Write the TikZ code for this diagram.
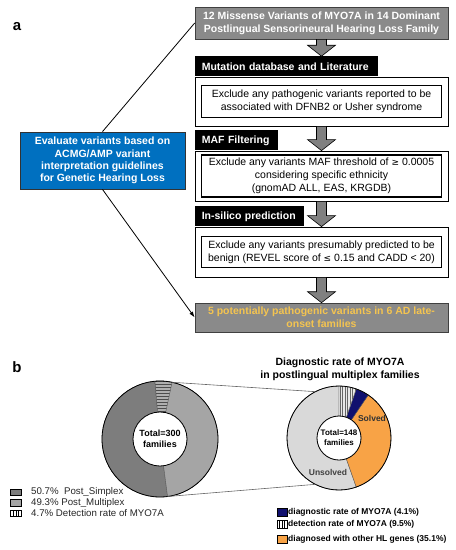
\documentclass[tikz,border=0pt]{standalone}
\usepackage{fontspec}
\setmainfont{Liberation Sans}
\usetikzlibrary{calc,arrows.meta}

\definecolor{boxgray}{RGB}{138,138,138}
\definecolor{arrgray}{RGB}{128,128,128}
\definecolor{evalblue}{RGB}{0,112,192}
\definecolor{resgold}{RGB}{244,196,80}
\definecolor{simplexgray}{RGB}{125,125,125}
\definecolor{multigray}{RGB}{165,165,165}
\definecolor{hatchgray}{RGB}{175,175,175}
\definecolor{unsolvedgray}{RGB}{217,217,217}
\definecolor{solvedorange}{RGB}{248,163,70}
\definecolor{diagnavy}{RGB}{16,16,110}

\NewDocumentCommand{\ringseg}{O{}mmmm}{%
\path[#1] (#4:#2) arc[start angle=#4, end angle=#5, radius=#2] -- (#5:#3) arc[start angle=#5, end angle=#4, radius=#3] -- cycle;%
}
\NewDocumentCommand{\blockarrow}{mm}{%
\path (#1.south |- #2.north) coordinate (tip);%
\draw[blockarr] ($(#1.south)+(-5,0)$) -- ($(tip)+(-5,11)$) -- ($(tip)+(-14,11)$) -- (tip) -- ($(tip)+(14,11)$) -- ($(tip)+(5,11)$) -- ($(#1.south)+(5,0)$) -- cycle;%
}

\begin{document}
\begin{tikzpicture}[x=1pt,y=1pt,
    graybox/.style={draw=black!75, line width=0.6pt, fill=boxgray, font=\bfseries\fontsize{10.5}{13}\selectfont, align=center, inner sep=0pt, minimum width=253pt},
    hdr/.style={fill=black, text=white, font=\bfseries\fontsize{10.5}{12}\selectfont, anchor=south west, inner xsep=7pt, inner ysep=0pt, minimum height=20pt, align=left},
    outbox/.style={draw=black, line width=0.8pt, fill=white, minimum width=253pt, inner sep=0pt},
    inbox/.style={draw=black, line width=1.2pt, font=\fontsize{10.5}{13}\selectfont, align=center, minimum width=240pt, inner sep=0pt},
    blockarr/.style={draw=black, line width=0.6pt, fill=arrgray},
    seg/.style={draw=black!65, line width=0.4pt},
    hole/.style={circle, draw=black, fill=white, line width=0.8pt, inner sep=0pt, align=center, font=\bfseries\fontsize{9}{11}\selectfont},
    zoomline/.style={draw=black!60, line width=0.6pt},
    legsq/.style={draw=black, line width=0.5pt, inner sep=0pt},
    legtxt/.style={anchor=west, inner sep=0pt},
    panel/.style={font=\bfseries\fontsize{15}{15}\selectfont}]
\useasboundingbox (0,0) rectangle (456,-550);

% a
\node[panel] (pa) at (17,-27) {a};

\node[graybox, text=white, minimum height=32pt] (src) at (321.5,-23)
    {12 Missense Variants of MYO7A in 14 Dominant\\Postlingual Sensorineural Hearing Loss Family};

\node[outbox, minimum height=49pt] (mutbox) at (321.5,-101.5) {};
\node[inbox, minimum height=32pt] (mutin) at (mutbox) {Exclude any pathogenic variants reported to be\\associated with DFNB2 or Usher syndrome};
\node[hdr, text width=169pt] (muthdr) at (mutbox.north west) {Mutation database and Literature};

\node[outbox, minimum height=50pt] (mafbox) at (321.5,-176) {};
\node[inbox, minimum height=42pt] (mafin) at (mafbox) {Exclude any variants MAF threshold of {\fontspec{DejaVu Sans}\fontsize{9}{13}\selectfont≥} 0.0005\\considering specific ethnicity\\(gnomAD ALL, EAS, KRGDB)};
\node[hdr, text width=69pt] (mafhdr) at (mafbox.north west) {MAF Filtering};

\node[outbox, minimum height=50pt] (silbox) at (321.5,-252) {};
\node[inbox, minimum height=31pt] (silin) at (silbox) {Exclude any variants presumably predicted to be\\benign (REVEL score of {\fontspec{DejaVu Sans}\fontsize{9}{13}\selectfont≤} 0.15 and CADD {\textless} 20)};
\node[hdr, text width=95pt] (silhdr) at (silbox.north west) {In-silico prediction};

\node[graybox, text=resgold, minimum height=29pt] (res) at (321.5,-317.5)
    {5 potentially pathogenic variants in 6 AD late-\\onset families};

\blockarrow{src}{muthdr}
\blockarrow{mutbox}{mafbox}
\blockarrow{mafbox}{silbox}
\blockarrow{silbox}{res}

\node[draw=black!80, line width=0.8pt, fill=evalblue, text=white, align=center, minimum width=165pt, minimum height=57pt, inner sep=0pt, font=\bfseries\fontsize{10.5}{12.3}\selectfont] (eval) at (102.5,-160.5)
    {Evaluate variants based on\\ACMG/AMP variant\\interpretation guidelines\\for Genetic Hearing Loss};
\draw[line width=0.8pt] (eval.north) -- (src.west);
\draw[line width=0.8pt, -{Latex[length=6pt,width=4pt]}] (eval.south) -- (res.west);

% b
\node[panel] (pb) at (17,-367) {b};

% all families
\begin{scope}[shift={(160,-439)}]
\ringseg[fill=simplexgray, seg]{58}{27}{95}{277.5}
\ringseg[fill=multigray, seg]{58}{27}{-82.5}{95}
\begin{scope}
\ringseg[clip]{58}{27}{78}{95}
\fill[hatchgray] (-25,20) rectangle (25,60);
\foreach \yy in {28,31,...,58} {\draw[black!70, line width=0.4pt] (-25,\yy) -- (25,\yy);}
\end{scope}
\ringseg[seg]{58}{27}{78}{95}
\draw[line width=0.8pt] (0,0) circle[radius=58];
\node[hole, minimum size=54pt] (allc) at (0,0) {Total=300\\families};
\coordinate (allTop) at (78:58);
\coordinate (allBot) at (-82.5:58);
\end{scope}

% multiplex families
\begin{scope}[shift={(339,-438)}]
\ringseg[fill=unsolvedgray, seg]{52}{22}{-70.6}{-270}
\ringseg[fill=solvedorange, seg]{52}{22}{55.8}{-70.6}
\ringseg[fill=diagnavy, seg]{52}{22}{70.6}{55.8}
\begin{scope}
\ringseg[clip]{52}{22}{90}{70.6}
\fill[unsolvedgray!60] (-5,15) rectangle (25,55);
\foreach \xx in {1,3.5,...,21} {\draw[black!60, line width=0.4pt] (\xx,15) -- (\xx,55);}
\end{scope}
\ringseg[seg]{52}{22}{90}{70.6}
\draw[line width=0.8pt] (0,0) circle[radius=52];
\node[hole, minimum size=44pt, font=\bfseries\fontsize{8}{10}\selectfont] (mulc) at (0,0) {Total=148\\families};
\node[font=\bfseries\fontsize{8.5}{10}\selectfont, text=black!80] (solved) at (33,20) {Solved};
\node[font=\bfseries\fontsize{8.5}{10}\selectfont, text=black!75] (unsolved) at (-11,-34) {Unsolved};
\coordinate (mulTop) at (117:52);
\coordinate (mulBot) at (-117:52);
\end{scope}
\draw[zoomline] (allTop) -- (mulTop);
\draw[zoomline] (allBot) -- (mulBot);

\node[font=\bfseries\fontsize{10.5}{13}\selectfont, align=center] (title) at (340,-369) {Diagnostic rate of MYO7A\\in postlingual multiplex families};

% legend, left
\node[legsq, fill=simplexgray, minimum width=11pt, minimum height=6.5pt] (lgA) at (16,-492) {};
\node[legsq, fill=multigray, minimum width=11pt, minimum height=6.5pt] (lgB) at (16,-502.5) {};
\node[legsq, fill=white, minimum width=11pt, minimum height=6.5pt] (lgC) at (16,-513) {};
\foreach \xx in {2.75,5.5,8.25} {\draw[line width=0.5pt] ($(lgC.south west)+(\xx,0)$) -- ($(lgC.north west)+(\xx,0)$);}
\begin{scope}[font=\fontsize{9.7}{10}\selectfont, text=black!85]
\node[legtxt] (lgAt) at (31,-492) {50.7\%\ \ Post\_Simplex};
\node[legtxt] (lgBt) at (31,-502.5) {49.3\% Post\_Multiplex};
\node[legtxt] (lgCt) at (31,-513) {4.7\% Detection rate of MYO7A};
\end{scope}

% legend, right
\node[legsq, fill=diagnavy, minimum width=10pt, minimum height=8pt] (lgD) at (282,-512) {};
\node[legsq, fill=white, minimum width=10pt, minimum height=8pt] (lgE) at (282,-524) {};
\foreach \xx in {2.5,5,7.5} {\draw[line width=0.5pt] ($(lgE.south west)+(\xx,0)$) -- ($(lgE.north west)+(\xx,0)$);}
\node[legsq, fill=solvedorange, minimum width=10pt, minimum height=8pt] (lgF) at (282,-539) {};
\begin{scope}[font=\bfseries\fontsize{8.5}{9}\selectfont]
\node[legtxt] (lgDt) at (288,-512) {diagnostic rate of MYO7A (4.1\%)};
\node[legtxt] (lgEt) at (288,-524) {detection rate of MYO7A (9.5\%)};
\node[legtxt] (lgFt) at (288,-539) {diagnosed with other HL genes (35.1\%)};
\end{scope}
\end{tikzpicture}
\end{document}
